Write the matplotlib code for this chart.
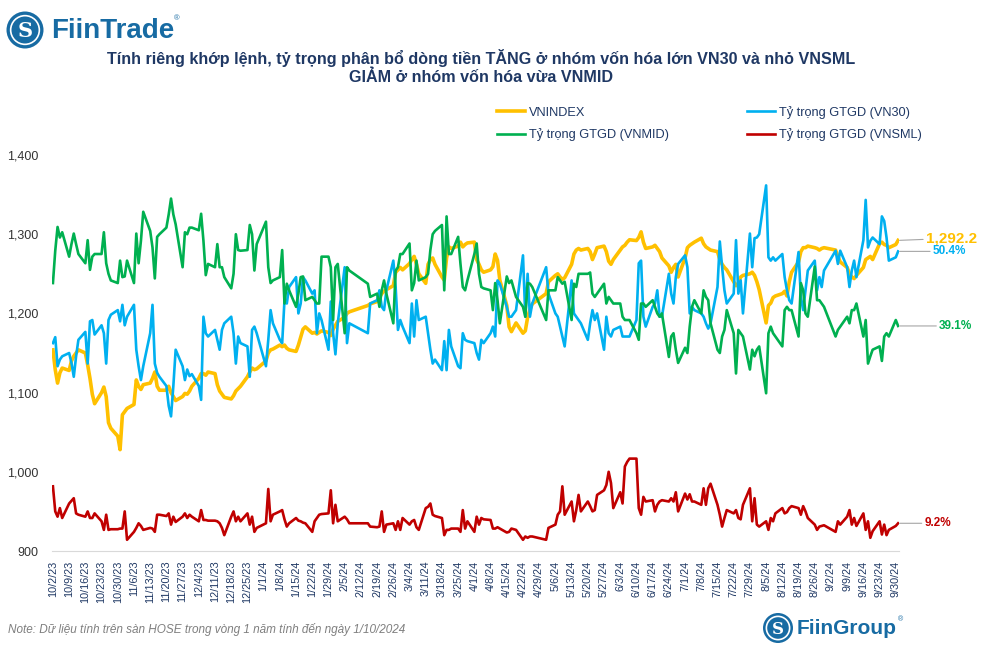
import numpy as np
import pandas as pd
import matplotlib
matplotlib.use('Agg')
import matplotlib.pyplot as plt
from matplotlib.ticker import FuncFormatter
from matplotlib.patches import Ellipse

plt.rcParams['font.family'] = ['Liberation Sans', 'DejaVu Sans']

# trading days on HOSE, 2/10/2023 - 1/10/2024
holidays = ['2024-01-01', '2024-02-08', '2024-02-09', '2024-02-12', '2024-02-13', '2024-02-14',
            '2024-04-18', '2024-04-29', '2024-04-30', '2024-05-01', '2024-09-02', '2024-09-03']
dates = pd.bdate_range('2023-10-02', '2024-10-01')
dates = dates[~dates.isin(pd.to_datetime(holidays))]

# one row per week (Mon..Fri)
vnindex = [
    1154, 1129, 1112, 1125, 1131,
    1128, 1140, 1146, 1150, 1154,
    1150, 1135, 1118, 1098, 1086,
    1100, 1107, 1095, 1062, 1055,
    1045, 1028, 1072, 1076, 1080,
    1085, 1116, 1108, 1104, 1110,
    1112, 1118, 1126, 1108, 1103,
    1103, 1108, 1100, 1095, 1090,
    1095, 1099, 1098, 1102, 1108,
    1118, 1124, 1124, 1122, 1126,
    1124, 1110, 1102, 1098, 1094,
    1092, 1096, 1102, 1105, 1108,
    1120, 1126, 1131, 1129, 1130,
    1140, 1150, 1154, 1155,
    1160, 1158, 1160, 1156, 1154,
    1152, 1160, 1170, 1180, 1183,
    1175, 1176, 1174, 1176, 1178,
    1176, 1172, 1180, 1185, 1190,
    1195, 1200, 1202,
    1210, 1212,
    1215, 1220, 1225, 1228, 1230,
    1235, 1252, 1255, 1258, 1255,
    1263, 1268, 1272, 1262, 1250,
    1238, 1262, 1268, 1270, 1262,
    1246, 1242, 1270, 1284, 1282,
    1285, 1290, 1284, 1287, 1289,
    1290, 1268, 1262, 1255, 1252,
    1255, 1259, 1275, 1267, 1242,
    1210, 1183, 1177, 1188,
    1175, 1178, 1195, 1205, 1212,
    1225, 1240,
    1248, 1250, 1246, 1243, 1245,
    1262, 1275, 1280, 1282, 1280,
    1282, 1278, 1268, 1275, 1283,
    1285, 1278, 1266, 1262, 1268,
    1280, 1284, 1286, 1290, 1293,
    1292, 1296, 1303, 1290, 1282,
    1284, 1286, 1282, 1278, 1270,
    1260, 1252, 1258, 1262, 1246,
    1270, 1283, 1286, 1288, 1290,
    1295, 1288, 1284, 1282, 1280,
    1278, 1268, 1262, 1258, 1255,
    1240, 1235, 1238, 1246, 1248,
    1250, 1252, 1248, 1240, 1230,
    1188, 1210, 1213, 1220, 1222,
    1225, 1228, 1222, 1240, 1252,
    1265, 1278, 1283, 1283, 1285,
    1283, 1282, 1280, 1282, 1283,
    1280, 1272, 1265,
    1258, 1250, 1246, 1244, 1248,
    1258, 1268, 1270, 1272, 1268,
    1288, 1290, 1287, 1286, 1283,
    1287, 1292.2,
]

vn30 = [
    36.5, 37.4, 33.0, 34.0, 34.5,
    35.0, 33.5, 31.4, 34.5, 37.0,
    38.2, 33.4, 39.8, 40.0, 37.8,
    39.2, 38.0, 33.4, 40.0, 40.8,
    41.5, 39.8, 42.3, 39.2, 40.5,
    42.3, 35.5, 33.0, 30.9, 33.0,
    38.0, 42.3, 33.4, 32.0, 31.4,
    30.0, 27.0, 25.4, 30.0, 35.5,
    33.0, 30.9, 32.5, 31.5, 31.8,
    30.0, 27.9, 40.5, 38.0, 37.5,
    38.5, 37.0, 35.5, 38.5, 39.5,
    40.5, 38.0, 33.4, 37.5, 36.5,
    36.0, 31.4, 38.5, 39.0, 38.0,
    33.0, 37.0, 41.5, 39.5,
    37.0, 36.5, 43.0, 42.5, 45.0,
    46.5, 41.0, 42.5, 46.5, 46.0,
    44.0, 44.5, 38.0, 41.0, 40.0,
    35.5, 42.8, 38.0, 34.8, 39.5,
    48.0, 36.5, 39.5,
    38.0, 42.5,
    43.0, 44.5, 42.0, 41.5, 44.5,
    49.0, 45.0, 38.5, 40.0, 39.0,
    36.5, 42.5, 37.5, 43.0, 40.0,
    40.5, 38.0, 35.5, 33.4, 34.0,
    32.4, 36.8, 32.4, 38.5, 36.0,
    33.0, 32.7, 38.0, 37.0, 36.8,
    36.5, 35.0, 34.0, 37.0, 36.5,
    38.0, 39.0, 37.5, 46.0, 45.5,
    42.0, 40.5, 40.5, 41.5,
    49.8, 40.5, 47.0, 40.5, 42.5,
    48.0, 44.0,
    41.0, 40.5, 39.0, 37.5, 36.0,
    46.0, 41.0, 40.5, 40.0, 39.5,
    37.0, 39.5, 41.5, 40.0, 41.0,
    35.5, 40.5, 38.0, 37.5, 38.5,
    39.0, 37.5, 37.5, 37.5, 37.5,
    40.0, 48.6, 49.0, 40.5, 39.0,
    42.0, 42.5, 44.5, 40.5, 40.5,
    47.0, 44.0, 42.5, 46.5, 48.5,
    49.8, 48.0, 41.0, 42.0, 41.5,
    41.0, 40.5, 39.5, 38.7, 39.5,
    45.0, 51.9, 48.0, 44.5, 42.5,
    44.0, 52.1, 44.0, 46.0, 41.0,
    53.1, 48.0, 52.4, 52.5, 53.0,
    60.4, 49.5, 49.0, 49.5, 49.0,
    50.0, 46.5, 44.5, 43.0, 42.5,
    50.3, 43.5, 41.5, 44.5, 47.5,
    49.0, 44.5, 46.5, 45.0, 47.5,
    50.5, 48.5, 50.5,
    48.0, 45.0, 47.5, 49.0, 46.5,
    52.1, 58.2, 51.0, 52.0, 52.5,
    51.5, 55.7, 55.0, 52.5, 49.0,
    49.5, 50.4,
]

vnmid = [
    45.6, 50.5, 54.1, 52.5, 53.3,
    49.6, 51.5, 53.1, 51.5, 50.0,
    48.6, 52.1, 47.6, 49.6, 50.0,
    50.0, 53.3, 48.6, 47.0, 46.0,
    45.6, 49.0, 46.5, 46.6, 49.0,
    45.6, 53.1, 48.6, 52.0, 56.4,
    53.5, 51.0, 46.3, 52.6, 53.0,
    54.0, 56.0, 58.4, 56.0, 54.5,
    48.0, 53.3, 53.0, 54.0, 54.0,
    53.6, 56.1, 52.0, 46.8, 48.5,
    48.0, 51.5, 48.0, 48.0, 46.5,
    44.8, 47.0, 53.0, 50.6, 50.5,
    50.6, 54.4, 53.0, 47.5, 51.5,
    54.9, 48.0, 45.6, 46.0,
    46.5, 50.6, 42.5, 45.5, 44.5,
    42.0, 44.0, 46.5, 46.6, 43.0,
    43.5, 43.0, 42.5, 42.5, 49.6,
    49.6, 48.0, 40.0, 48.0, 48.5,
    38.0, 48.0, 47.5,
    45.5, 43.5,
    44.0, 42.0, 44.5, 46.0, 44.0,
    39.5, 47.5, 48.0, 50.0, 50.0,
    51.6, 44.5, 45.6, 49.0, 46.0,
    46.5, 47.0, 50.6, 53.0, 53.5,
    54.4, 44.5, 55.7, 50.0, 50.0,
    52.6, 48.5, 45.0, 44.5, 46.0,
    50.0, 51.6, 47.0, 45.0, 44.8,
    44.5, 41.5, 45.6, 43.0, 39.5,
    46.6, 45.6, 46.0, 43.5,
    42.0, 40.5, 45.6, 45.5, 45.0,
    40.0, 44.5,
    44.5, 46.5, 46.0, 45.5, 45.8,
    40.0, 45.5, 45.0, 47.0, 47.0,
    47.0, 47.2, 44.0, 43.5, 44.0,
    45.5, 42.5, 43.5, 43.0, 42.5,
    42.5, 40.5, 40.0, 40.0, 40.0,
    38.0, 37.0, 42.5, 42.5, 42.0,
    43.0, 42.0, 41.0, 40.5, 41.0,
    34.4, 37.5, 38.0, 35.5, 33.5,
    35.8, 35.0, 39.0, 42.0, 43.0,
    41.0, 44.5, 43.5, 43.0, 39.5,
    35.5, 35.0, 37.5, 38.5, 41.5,
    38.0, 31.9, 38.5, 38.0, 37.5,
    32.5, 35.5, 34.5, 35.5, 36.0,
    28.9, 38.0, 39.0, 38.0, 37.5,
    36.0, 41.5, 42.0, 41.5, 41.5,
    37.5, 45.6, 44.5, 41.0, 40.5,
    48.1, 43.0, 43.0, 42.5, 42.0,
    37.5, 38.5, 39.0,
    40.5, 39.5, 41.5, 41.5, 42.5,
    37.5, 40.0, 33.4, 34.5, 35.5,
    36.0, 33.8, 37.5, 38.0, 37.5,
    40.0, 39.1,
]

vnsml = [
    14.8, 11.0, 10.2, 11.5, 10.0,
    12.2, 12.6, 13.0, 10.7, 10.5,
    10.2, 11.0, 10.0, 10.0, 10.7,
    9.5, 8.2, 10.5, 8.2, 8.3,
    8.3, 8.4, 8.4, 11.0, 6.7,
    7.9, 8.5, 9.2, 8.8, 8.2,
    8.5, 8.4, 7.9, 10.5, 10.5,
    10.3, 10.7, 9.0, 10.2, 9.4,
    10.2, 10.7, 10.0, 10.5, 10.2,
    9.5, 11.2, 9.7, 9.7, 9.6,
    9.6, 9.5, 9.2, 8.5, 7.4,
    10.2, 11.0, 9.5, 10.2, 9.5,
    10.7, 9.0, 10.2, 7.9, 8.5,
    9.2, 14.4, 9.5, 10.5,
    11.0, 11.2, 9.8, 8.7, 9.2,
    10.0, 9.6, 9.5, 9.3, 9.2,
    7.9, 9.5, 10.0, 10.5, 10.6,
    10.7, 14.2, 9.2, 12.0, 9.5,
    10.2, 9.8, 9.2,
    9.2, 8.7,
    8.6, 8.7, 11.0, 7.9, 9.0,
    9.2, 8.2, 9.5, 8.2, 10.0,
    9.0, 9.5, 9.7, 8.6, 8.2,
    11.5, 11.7, 12.2, 10.5, 10.3,
    10.0, 7.4, 8.2, 8.2, 8.4,
    8.4, 7.9, 11.2, 8.4, 9.5,
    7.9, 10.2, 9.0, 10.0, 9.8,
    9.7, 8.4, 8.4, 8.6, 8.4,
    7.8, 7.9, 8.4, 8.2,
    6.7, 7.2, 7.0, 7.2, 7.2,
    6.7, 8.5,
    9.0, 10.5, 11.0, 14.8, 10.5,
    12.5, 9.5, 11.2, 13.5, 11.0,
    12.5, 11.8, 11.0, 11.2, 13.5,
    14.2, 15.0, 17.0, 15.3, 11.5,
    13.9, 12.2, 17.8, 18.5, 19.0,
    19.0, 11.5, 10.5, 13.2, 12.5,
    12.7, 11.0, 12.0, 12.5, 12.7,
    12.5, 13.0, 12.5, 13.9, 11.0,
    13.7, 12.8, 13.6, 12.5, 12.5,
    12.0, 14.5, 12.0, 14.5, 15.2,
    12.0, 10.5, 8.7, 10.0, 11.2,
    10.7, 11.2, 10.0, 9.8, 12.0,
    14.5, 9.5, 13.0, 9.0, 8.7,
    9.5, 8.2, 10.0, 9.5, 10.7,
    11.5, 10.7, 10.9, 11.5, 11.8,
    11.5, 10.5, 11.8, 11.0, 10.0,
    9.0, 8.2, 8.7, 8.8, 8.9,
    7.9, 9.5, 9.0,
    10.2, 11.2, 9.0, 10.0, 8.8,
    10.7, 8.2, 9.5, 7.0, 8.0,
    9.5, 7.5, 9.0, 7.4, 8.2,
    8.8, 9.2,
]

series_names = ['VNINDEX', 'Tỷ trọng GTGD (VN30)', 'Tỷ trọng GTGD (VNMID)', 'Tỷ trọng GTGD (VNSML)']
colors = ['#FFC000', '#00B0F0', '#00B050', '#C00000']
tick_dates = pd.date_range('2023-10-02', '2024-09-30', freq='7D')
tick_labels = [f'{d.month}/{d.day}/{d.strftime("%y")}' for d in tick_dates]

navy = '#1F3864'
W, H = 988, 650

fig = plt.figure(figsize=(9.88, 6.5), dpi=100)
ax = fig.add_axes([0.0526, 0.1523, 0.857, 0.6092])
l_idx, = ax.plot(dates, vnindex, color=colors[0], lw=2.6, solid_joinstyle='round')
ax.set_ylim(900, 1400)
ax.set_yticks(np.arange(900, 1401, 100))
ax.yaxis.set_major_formatter(FuncFormatter(lambda v, p: f'{v:,.0f}'))
ax.set_xlim(pd.Timestamp('2023-10-01 14:00'), pd.Timestamp('2024-10-01 06:00'))
ax.set_xticks(tick_dates)
ax.set_xticklabels(tick_labels, rotation=90)
ax.tick_params(axis='x', length=0, pad=7, labelsize=7.8, labelcolor=navy)
ax.tick_params(axis='y', length=0, pad=10, labelsize=9, labelcolor='#333333')
for s in ['top', 'right', 'left']:
    ax.spines[s].set_visible(False)
ax.spines['bottom'].set_color('#D9D9D9')

ax2 = ax.twinx()
l30, = ax2.plot(dates, vn30, color=colors[1], lw=1.9)
lmid, = ax2.plot(dates, vnmid, color=colors[2], lw=1.9)
lsml, = ax2.plot(dates, vnsml, color=colors[3], lw=1.9)
ax2.set_ylim(5, 65)
ax2.set_yticks([])
for s in ax2.spines.values():
    s.set_visible(False)

# end-of-line labels
leader = dict(arrowstyle='-', color='#A6A6A6', lw=0.8, shrinkA=0, shrinkB=1)
ax.annotate(f'{vnindex[-1]:,.1f}', (dates[-1], vnindex[-1]), xytext=(20, 1.5),
            textcoords='offset points', color=colors[0], fontsize=11, fontweight='bold',
            va='center', ha='left', arrowprops=leader, annotation_clip=False)
ends = [(vn30, colors[1], 25), (vnmid, colors[2], 29.5), (vnsml, colors[3], 19)]
for vals, c, dx in ends:
    ax2.annotate(f'{vals[-1]:.1f}%', (dates[-1], vals[-1]), xytext=(dx, 0),
                 textcoords='offset points', color=c, fontsize=8.5, fontweight='bold',
                 va='center', ha='left', arrowprops=leader, annotation_clip=False)

fig.legend([l_idx, lmid, l30, lsml],
           [series_names[0], series_names[2], series_names[1], series_names[3]],
           ncol=2, loc='upper left', bbox_to_anchor=(497 / W, 1 - 106 / H),
           frameon=False, fontsize=9.2, labelcolor=navy, handlelength=2.2,
           handletextpad=0.3, columnspacing=6.1, labelspacing=0.72,
           borderpad=0, borderaxespad=0)

fig.text(481 / W, 1 - 58 / H,
         'Tính riêng khớp lệnh, tỷ trọng phân bổ dòng tiền TĂNG ở nhóm vốn hóa lớn VN30 và nhỏ VNSML',
         ha='center', va='center', fontsize=11.6, fontweight='bold', color=navy)
fig.text(481 / W, 1 - 77 / H, 'GIẢM ở nhóm vốn hóa vừa VNMID',
         ha='center', va='center', fontsize=11.6, fontweight='bold', color=navy)


def logo(cx, cy, r, size):
    # round badge with white ring and an S
    fig.patches.append(Ellipse((cx / W, 1 - cy / H), 2 * r / W, 2 * r / H,
                               transform=fig.transFigure, facecolor=logo_blue, lw=0))
    fig.patches.append(Ellipse((cx / W, 1 - cy / H), 1.55 * r / W, 1.55 * r / H,
                               transform=fig.transFigure, facecolor='none',
                               edgecolor='white', lw=1.2))
    fig.text(cx / W, 1 - (cy + 1) / H, 'S', ha='center', va='center', color='white',
             fontsize=size, fontweight='bold', family='DejaVu Serif')


logo_blue = '#176BA3'
logo(25, 30, 18.5, 15)
fig.text(51 / W, 1 - 31 / H, 'FiinTrade', ha='left', va='center', color=logo_blue,
         fontsize=20, fontweight='bold')
fig.text(174 / W, 1 - 19 / H, '®', ha='left', va='center', color=logo_blue, fontsize=5.5)

logo(778, 628, 15, 12)
fig.text(797 / W, 1 - 629 / H, 'FiinGroup', ha='left', va='center', color=logo_blue,
         fontsize=15, fontweight='bold')
fig.text(898 / W, 1 - 620 / H, '®', ha='left', va='center', color=logo_blue, fontsize=5)

fig.text(8 / W, 1 - 630 / H,
         'Note: Dữ liệu tính trên sàn HOSE trong vòng 1 năm tính đến ngày 1/10/2024',
         ha='left', va='center', fontsize=8.5, style='italic', color='#7F7F7F')

fig.savefig('out.png', dpi=100)
